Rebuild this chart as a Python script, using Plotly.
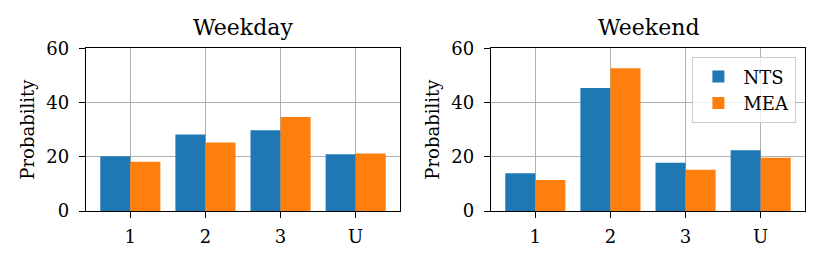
import plotly.graph_objects as go

categories = ["1", "2", "3", "U"]
weekday_nts = [20.2, 28.2, 29.8, 20.9]
weekday_mea = [18.2, 25.3, 34.7, 21.2]
weekend_nts = [13.9, 45.4, 17.8, 22.4]
weekend_mea = [11.4, 52.6, 15.2, 19.6]
y_ticks = [0, 20, 40, 60]
panel_titles = ["Weekday", "Weekend"]
series_names = ["NTS", "MEA"]
colors = ["#1f77b4", "#ff7f0e"]

FONT = "DejaVu Serif"
W, H = 830, 265
FS = 18
OFF = 8  # page body margin offset

fig = go.Figure()
xs = list(range(len(categories)))

panels = [(weekday_nts, weekday_mea), (weekend_nts, weekend_mea)]
for i, (nts, mea) in enumerate(panels):
    ax = "" if i == 0 else "2"
    for j, vals in enumerate([nts, mea]):
        fig.add_trace(go.Bar(
            x=xs, y=vals, name=series_names[j],
            marker=dict(color=colors[j], line=dict(width=0)),
            xaxis="x" + ax, yaxis="y" + ax,
            showlegend=(i == 1), offsetgroup=str(j),
        ))

ydom = [(H - (211 - OFF)) / H, (H - (48.3 - OFF)) / H]
xdoms = [[(86 - OFF) / W, (400 - OFF) / W], [(491 - OFF) / W, (805 - OFF) / W]]

common_axis = dict(
    showline=True, linecolor="black", linewidth=1.4, mirror=True,
    ticks="outside", ticklen=6, tickwidth=1.4, tickcolor="black",
    showgrid=True, gridcolor="#b0b0b0", gridwidth=1.4,
    zeroline=False, layer="above traces", automargin=False,
    tickfont=dict(family=FONT, size=FS, color="black"),
)

layout = dict(
    width=W, height=H,
    margin=dict(l=0, r=0, t=0, b=0, autoexpand=False),
    paper_bgcolor="white", plot_bgcolor="white",
    barmode="group", bargap=0.2, bargroupgap=0,
    font=dict(family=FONT, size=FS, color="black"),
    showlegend=True,
    legend=dict(
        x=(796 - OFF) / W, y=(H - (57 - OFF)) / H, xanchor="right", yanchor="top",
        bgcolor="rgba(255,255,255,0.8)", bordercolor="#cccccc", borderwidth=1.4,
        font=dict(family=FONT, size=FS, color="black"),
        itemwidth=40, tracegroupgap=2,
    ),
)
for i in range(2):
    ax = "" if i == 0 else "2"
    layout["xaxis" + ax] = dict(
        common_axis, domain=xdoms[i], anchor="y" + ax,
        range=[-0.59, 3.59], tickmode="array", tickvals=xs, ticktext=categories,
        ticklabelstandoff=3,
    )
    layout["yaxis" + ax] = dict(
        common_axis, domain=ydom, anchor="x" + ax,
        range=[0, 60], tickmode="array", tickvals=y_ticks,
        ticktext=[str(t) for t in y_ticks], ticklabelstandoff=6,
        title=dict(text="Probability", font=dict(family=FONT, size=FS, color="black"), standoff=6),
    )
fig.update_layout(**layout)

for i, t in enumerate(panel_titles):
    ax = "" if i == 0 else "2"
    fig.add_annotation(
        text=t, xref="x" + ax + " domain", yref="y" + ax + " domain",
        x=0.5, y=1, xanchor="center", yanchor="bottom", yshift=6,
        showarrow=False, font=dict(family=FONT, size=22, color="black"),
    )

fig.write_html("out.html")
